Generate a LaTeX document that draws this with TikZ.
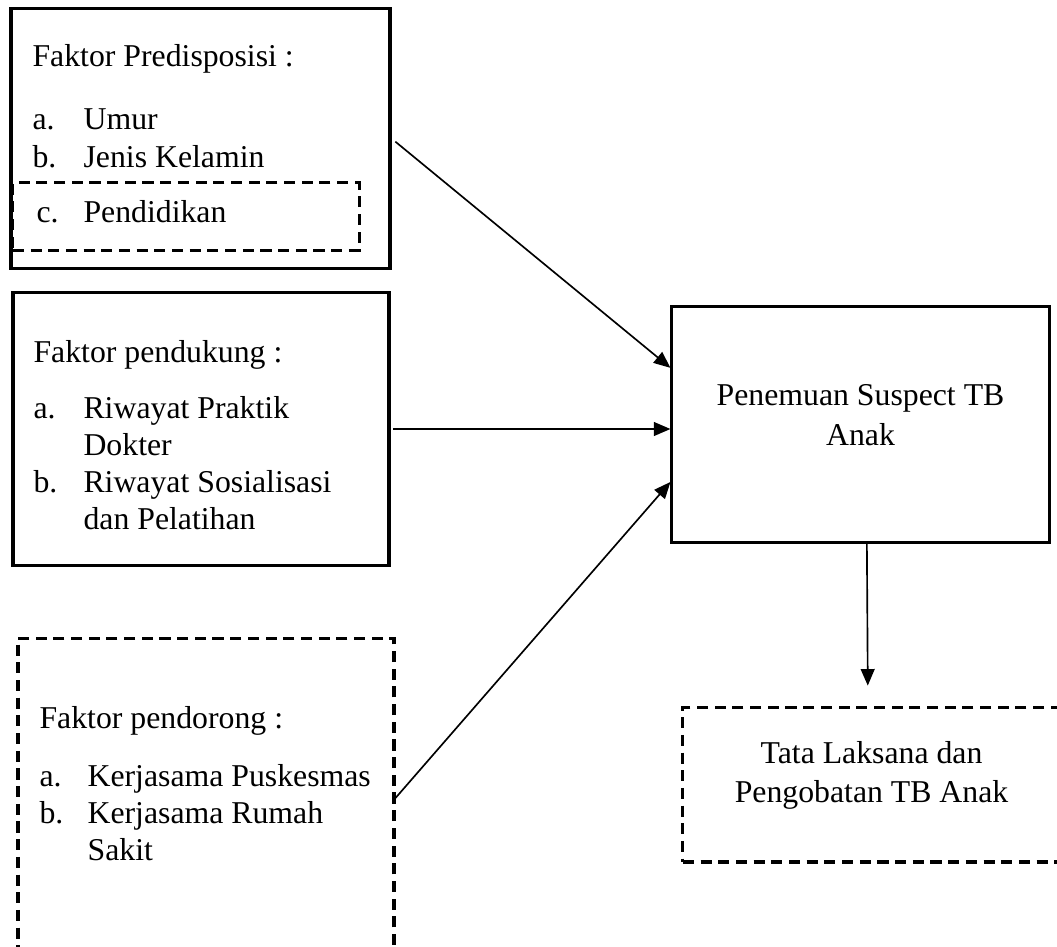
\documentclass[tikz,border=0pt]{standalone}
\usepackage{fontspec}
\setmainfont{Liberation Serif}
\usetikzlibrary{arrows.meta}

\begin{document}
\begin{tikzpicture}[x=0.362pt,y=-0.362pt,
  >={Triangle[length=6pt,width=5pt]},
  kotak/.style={draw,rectangle,line width=1.1pt,inner sep=0pt},
  putus/.style={kotak,dash pattern=on 4pt off 2.4pt},
  teks/.style={anchor=base west,inner sep=0pt,font=\fontsize{11.5}{13.5}\selectfont},
  panah/.style={->,line width=0.6pt}]
\useasboundingbox (0,0) rectangle (1057,946);
\clip (0,0) rectangle (1057,946);

% faktor predisposisi
\node[kotak,minimum width=137.2pt,minimum height=93.8pt] (pre) at (200.5,138.5) {};
\node[putus,minimum width=125.3pt,minimum height=24.3pt] (didik) at (186,216.5) {};
\node[teks] (preJudul) at (32,67) {Faktor Predisposisi :};
\node[teks] (preIsi) at (32,130) {\begin{tabular}[t]{@{}p{18.5pt}@{}l@{}}
a. & Umur\\
b. & Jenis Kelamin
\end{tabular}};
\node[teks] (didikIsi) at (36,222) {\begin{tabular}[t]{@{}p{17pt}@{}l@{}}
c. & Pendidikan
\end{tabular}};

% faktor pendukung
\node[kotak,minimum width=136.1pt,minimum height=98.5pt] (dukung) at (201,429) {};
\node[teks] (dukungJudul) at (33,362) {Faktor pendukung :};
\node[teks] (dukungIsi) at (33,418) {\begin{tabular}[t]{@{}p{18.1pt}@{}l@{}}
a. & Riwayat Praktik\\
   & Dokter\\
b. & Riwayat Sosialisasi\\
   & dan Pelatihan
\end{tabular}};

% faktor pendorong
\node[putus,minimum width=136.1pt,minimum height=115.8pt] (dorong) at (206,798) {};
\node[teks] (dorongJudul) at (39,728) {Faktor pendorong :};
\node[teks] (dorongIsi) at (39,786) {\begin{tabular}[t]{@{}p{17.4pt}@{}l@{}}
a. & Kerjasama Puskesmas\\
b. & Kerjasama Rumah\\
   & Sakit
\end{tabular}};

% penemuan suspect
\node[kotak,minimum width=136.5pt,minimum height=85.1pt] (hasil) at (860.5,424.5) {};
\node[inner sep=0pt,align=center,font=\fontsize{11.5}{14.5}\selectfont] (hasilTeks) at ([yshift=3.3pt]hasil.center) {Penemuan Suspect TB\\Anak};

% tata laksana
\node[putus,minimum width=136.5pt,minimum height=56.1pt] (tata) at (871.5,784.5) {};
\node[inner sep=0pt,align=center,font=\fontsize{11.5}{13.8}\selectfont] (tataTeks) at ([yshift=3.3pt]tata.center) {Tata Laksana dan\\Pengobatan TB Anak};

% panah
\draw[panah,shorten <=1.8pt] (pre.east) -- ([yshift=20.5pt]hasil.west);
\draw[panah,shorten <=1pt] (dukung.east) -- (dukung.east -| hasil.west);
\draw[panah] (dorong.east) -- ([yshift=-20.8pt]hasil.west);
\draw[panah,shorten >=7.2pt] ([xshift=2.3pt]hasil.south) -- ([xshift=-1.3pt]tata.north);
\end{tikzpicture}
\end{document}
